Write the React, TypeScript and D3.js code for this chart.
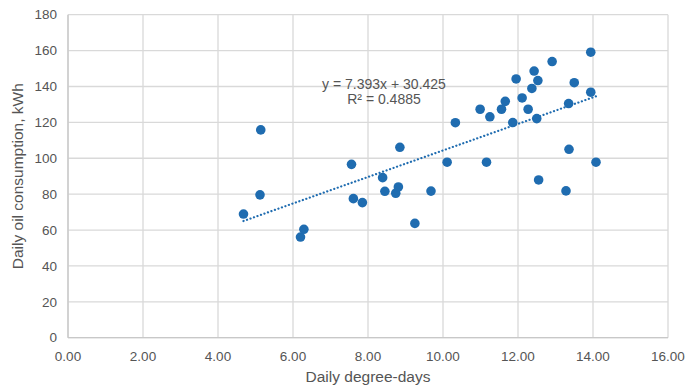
import React from "react";
import * as d3 from "d3";

const degreeDays: number[] = [
  4.68, 5.12, 5.14, 6.2, 6.29, 7.56, 7.61, 7.85, 8.39, 8.45, 8.74, 8.81, 8.85,
  9.25, 9.68, 10.11, 10.33, 10.99, 11.16, 11.25, 11.56, 11.66, 11.86, 11.95,
  12.11, 12.27, 12.37, 12.43, 12.5, 12.53, 12.55, 12.91, 13.28, 13.35, 13.36,
  13.5, 13.94, 13.94, 14.08,
];
const oilKWh: number[] = [
  68.9, 79.6, 115.8, 56.1, 60.4, 96.6, 77.5, 75.3, 89.2, 81.6, 80.5, 84.0, 106.1,
  63.7, 81.7, 97.8, 119.8, 127.3, 97.8, 123.1, 127.3, 131.7, 119.9, 144.2, 133.6,
  127.3, 138.9, 148.6, 122.1, 143.3, 87.9, 153.9, 81.8, 130.5, 105.0, 142.1,
  159.1, 136.8, 97.8,
];
const xTicks: number[] = [0, 2, 4, 6, 8, 10, 12, 14, 16];
const yTicks: number[] = [0, 20, 40, 60, 80, 100, 120, 140, 160, 180];
const slope = 7.393;
const intercept = 30.425;
const equationText = "y = 7.393x + 30.425";
const r2Text = "R² = 0.4885";
const xTitle = "Daily degree-days";
const yTitle = "Daily oil consumption, kWh";

export default function App() {
  const W = 692;
  const H = 387;
  const left = 68;
  const right = 668;
  const top = 14.7;
  const bottom = 337.7;
  const x = d3.scaleLinear().domain([0, 16]).range([left, right]);
  const y = d3.scaleLinear().domain([0, 180]).range([bottom, top]);
  const grid = "#d9d9d9";
  const txt = "#555555";
  const blue = "#1f6cb0";
  const font = "'Liberation Sans', Arial, sans-serif";
  const xMin = d3.min(degreeDays) as number;
  const xMax = d3.max(degreeDays) as number;
  const line = d3
    .line<number>()
    .x((d) => x(d))
    .y((d) => y(slope * d + intercept));

  return (
    <svg
      width={W}
      height={H}
      style={{ position: "absolute", left: 0, top: 0, background: "#fff" }}
      fontFamily={font}
    >
      {xTicks.map((t) => (
        <line key={"gx" + t} x1={x(t)} x2={x(t)} y1={y(0)} y2={y(180)} stroke={grid} strokeWidth={1.3} />
      ))}
      {yTicks.map((t) => (
        <line key={"gy" + t} x1={x(0)} x2={x(16)} y1={y(t)} y2={y(t)} stroke={grid} strokeWidth={1.3} />
      ))}
      <line x1={x(0)} x2={x(16)} y1={y(0)} y2={y(0)} stroke="#c8c8c8" strokeWidth={1.3} />
      <line x1={x(0)} x2={x(0)} y1={y(0)} y2={y(180)} stroke="#c8c8c8" strokeWidth={1.3} />
      {yTicks.map((t) => (
        <text key={"ty" + t} x={x(0) - 11} y={y(t)} dy="0.35em" textAnchor="end" fontSize={13.5} fill={txt}>
          {t}
        </text>
      ))}
      {xTicks.map((t) => (
        <text key={"tx" + t} x={x(t)} y={y(0) + 23} textAnchor="middle" fontSize={13.5} fill={txt}>
          {t.toFixed(2)}
        </text>
      ))}
      <text x={(left + right) / 2} y={382} textAnchor="middle" fontSize={15.5} fill={txt}>
        {xTitle}
      </text>
      <text
        transform={`translate(23, ${(top + bottom) / 2}) rotate(-90)`}
        textAnchor="middle"
        fontSize={15.5}
        fill={txt}
      >
        {yTitle}
      </text>
      {degreeDays.map((d, i) => (
        <circle key={"p" + i} cx={x(d)} cy={y(oilKWh[i])} r={4.8} fill={blue} />
      ))}
      <path
        d={line([xMin, xMax]) as string}
        fill="none"
        stroke={blue}
        strokeWidth={2.2}
        strokeDasharray="0.1 3.6"
        strokeLinecap="round"
      />
      <text x={384} y={89} textAnchor="middle" fontSize={14} fill={txt}>
        {equationText}
      </text>
      <text x={384} y={104} textAnchor="middle" fontSize={14} fill={txt}>
        {r2Text}
      </text>
    </svg>
  );
}
